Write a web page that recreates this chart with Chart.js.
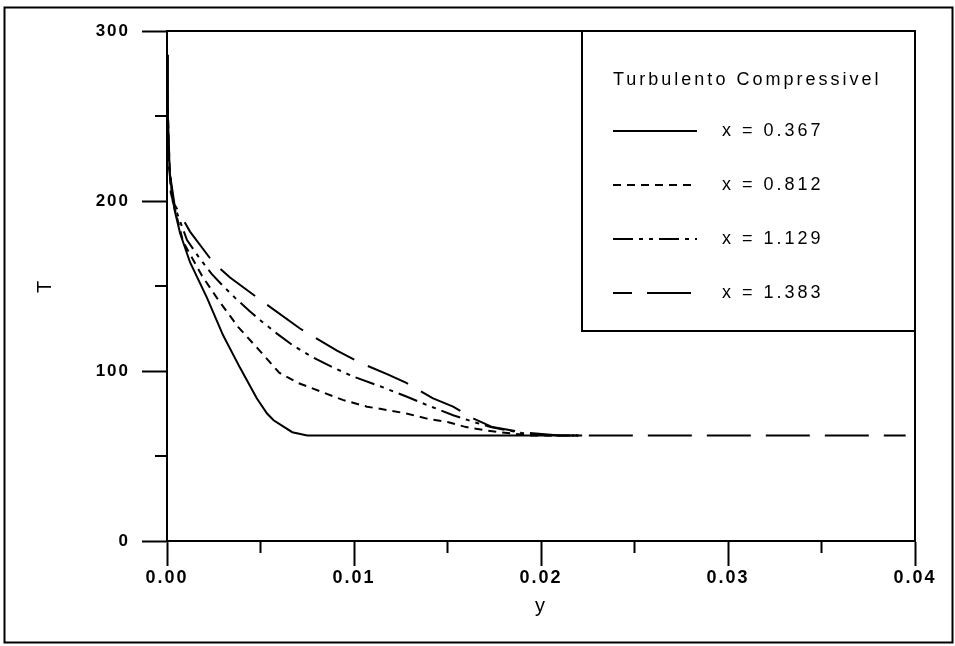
<!DOCTYPE html>
<html>
<head>
<meta charset="utf-8">
<title>Turbulento Compressivel</title>
<script src="https://cdn.jsdelivr.net/npm/chart.js@4.4.1/dist/chart.umd.min.js"></script>
<style>
  html, body { margin: 0; padding: 0; background: #fff; }
  canvas { display: block; }
</style>
</head>
<body>
<canvas id="perfilT" width="955" height="646"></canvas>
<script>
// distance from the wall (y) and temperature (T) at each station x
const yX0367 = [0, 0.00005, 0.00015, 0.0004, 0.0007, 0.00123, 0.00214, 0.0030, 0.0039, 0.0048, 0.00535, 0.0057, 0.0067, 0.0075, 0.0222];
const tX0367 = [286, 250, 215, 195, 181, 164, 143, 121, 102, 84, 75, 71, 64, 62, 62];

const yX0812 = [0, 0.0001, 0.0002, 0.00086, 0.00187, 0.00273, 0.0038, 0.00487, 0.006, 0.007, 0.0082, 0.0094, 0.0107, 0.0118, 0.0128, 0.0139, 0.015, 0.016, 0.0171, 0.0182, 0.0195, 0.022];
const tX0812 = [272, 232, 205, 176, 156, 142, 126, 113, 99, 93, 88, 83, 79, 77, 75, 72, 70, 67, 65, 63.5, 62, 62];

const yX1129 = [0, 0.0001, 0.0003, 0.00107, 0.00176, 0.0024, 0.003, 0.00364, 0.00444, 0.00508, 0.00588, 0.00674, 0.0078, 0.0089, 0.0099, 0.0114, 0.0128, 0.0139, 0.0153, 0.0164, 0.0173, 0.019, 0.0205, 0.022];
const tX1129 = [262, 225, 200, 177, 166, 157, 150, 143, 135, 129, 122, 115, 108, 102, 97, 91, 85, 80, 74, 70, 67, 63.5, 62, 62];

const yX1383 = [0, 0.0001, 0.0004, 0.00123, 0.00246, 0.00337, 0.00497, 0.00711, 0.00909, 0.0103, 0.0118, 0.0128, 0.0142, 0.0153, 0.0164, 0.0174, 0.019, 0.021, 0.0395];
const tX1383 = [255, 220, 198, 182, 164, 155, 142, 125, 112, 105, 98, 93, 84, 79, 72, 67, 64, 62, 62];

const seriesLabels = ['x = 0.367', 'x = 0.812', 'x = 1.129', 'x = 1.383'];
const legendTitle = 'Turbulento Compressivel';

const yTicks = [0, 0.01, 0.02, 0.03, 0.04];
const yMinorTicks = [0.005, 0.015, 0.025, 0.035];
const tTicks = [0, 100, 200, 300];
const tMinorTicks = [50, 150, 250];

const FONT = '"Liberation Sans", Arial, sans-serif';

function toPoints(xs, ts) {
  return xs.map((v, i) => ({ x: v, y: ts[i] }));
}

const dashes = [[], [8, 6], [20, 6, 4, 6, 4, 6], [44, 15]];
const legendDashOffset = [0, 0, 0, 25];

const datasets = [
  [yX0367, tX0367],
  [yX0812, tX0812],
  [yX1129, tX1129],
  [yX1383, tX1383]
].map((s, i) => ({
  label: seriesLabels[i],
  data: toPoints(s[0], s[1]),
  showLine: true,
  borderColor: '#000',
  borderWidth: 2,
  borderDash: dashes[i],
  pointRadius: 0,
  fill: false,
  tension: 0
}));

// plot box, minor ticks, outer frame and the boxed legend
const framePlugin = {
  id: 'frame',
  beforeDraw(chart) {
    chart.ctx.letterSpacing = '2px';
  },
  afterDraw(chart) {
    const { ctx, chartArea: a, scales } = chart;
    ctx.save();
    ctx.strokeStyle = '#000';
    ctx.lineWidth = 2;

    ctx.beginPath();
    ctx.moveTo(a.left, a.top);
    ctx.lineTo(a.right, a.top);
    ctx.lineTo(a.right, a.bottom);
    ctx.stroke();

    ctx.beginPath();
    yMinorTicks.forEach(v => {
      const px = scales.x.getPixelForValue(v);
      ctx.moveTo(px, a.bottom);
      ctx.lineTo(px, a.bottom + 12);
    });
    tMinorTicks.forEach(v => {
      const py = scales.y.getPixelForValue(v);
      ctx.moveTo(a.left, py);
      ctx.lineTo(a.left - 12, py);
    });
    ctx.stroke();

    ctx.strokeRect(4.5, 7.5, 948, 635);

    // legend
    const bx = a.right - 333, by = a.top, bw = 333, bh = 300;
    ctx.fillStyle = '#fff';
    ctx.fillRect(bx, by, bw, bh);
    ctx.strokeRect(bx, by, bw, bh);

    ctx.fillStyle = '#000';
    ctx.letterSpacing = '3px';
    ctx.font = '18px ' + FONT;
    ctx.textBaseline = 'middle';
    ctx.textAlign = 'left';
    ctx.fillText(legendTitle, bx + 31, by + 49);

    chart.data.datasets.forEach((ds, i) => {
      const ry = by + 100 + i * 54;
      ctx.setLineDash(ds.borderDash);
      ctx.lineDashOffset = legendDashOffset[i];
      ctx.beginPath();
      ctx.moveTo(bx + 31, ry);
      ctx.lineTo(bx + 115, ry);
      ctx.stroke();
      ctx.setLineDash([]);
      ctx.fillText(ds.label, bx + 140, ry);
    });
    ctx.restore();
  }
};

new Chart(document.getElementById('perfilT').getContext('2d'), {
  type: 'scatter',
  data: { datasets: datasets },
  options: {
    responsive: false,
    devicePixelRatio: 1,
    animation: false,
    layout: { padding: { top: 31, right: 40, left: 0, bottom: 0 } },
    plugins: { legend: { display: false }, tooltip: { enabled: false } },
    scales: {
      x: {
        type: 'linear',
        min: 0,
        max: 0.04,
        afterBuildTicks: s => { s.ticks = yTicks.map(v => ({ value: v })); },
        afterFit: s => { s.height = 105; },
        ticks: {
          callback: v => v.toFixed(2),
          color: '#000',
          font: { family: FONT, size: 18, weight: 'bold' },
          padding: 1,
          maxRotation: 0,
          autoSkip: false
        },
        grid: { drawOnChartArea: false, tickLength: 25, tickWidth: 2, tickColor: '#000' },
        border: { color: '#000', width: 2 },
        title: {
          display: true,
          text: 'y',
          color: '#000',
          font: { family: FONT, size: 20 },
          padding: { top: 0, bottom: 28 }
        }
      },
      y: {
        type: 'linear',
        min: 0,
        max: 300,
        afterBuildTicks: s => { s.ticks = tTicks.map(v => ({ value: v })); },
        afterFit: s => { s.width = 167; },
        ticks: {
          color: '#000',
          font: { family: FONT, size: 17, weight: 'bold' },
          padding: 12
        },
        grid: { drawOnChartArea: false, tickLength: 25, tickWidth: 2, tickColor: '#000' },
        border: { color: '#000', width: 2 },
        title: {
          display: true,
          text: 'T',
          color: '#000',
          font: { family: FONT, size: 20 },
          padding: { top: 33, bottom: 0 }
        }
      }
    }
  },
  plugins: [framePlugin]
});
</script>
</body>
</html>
